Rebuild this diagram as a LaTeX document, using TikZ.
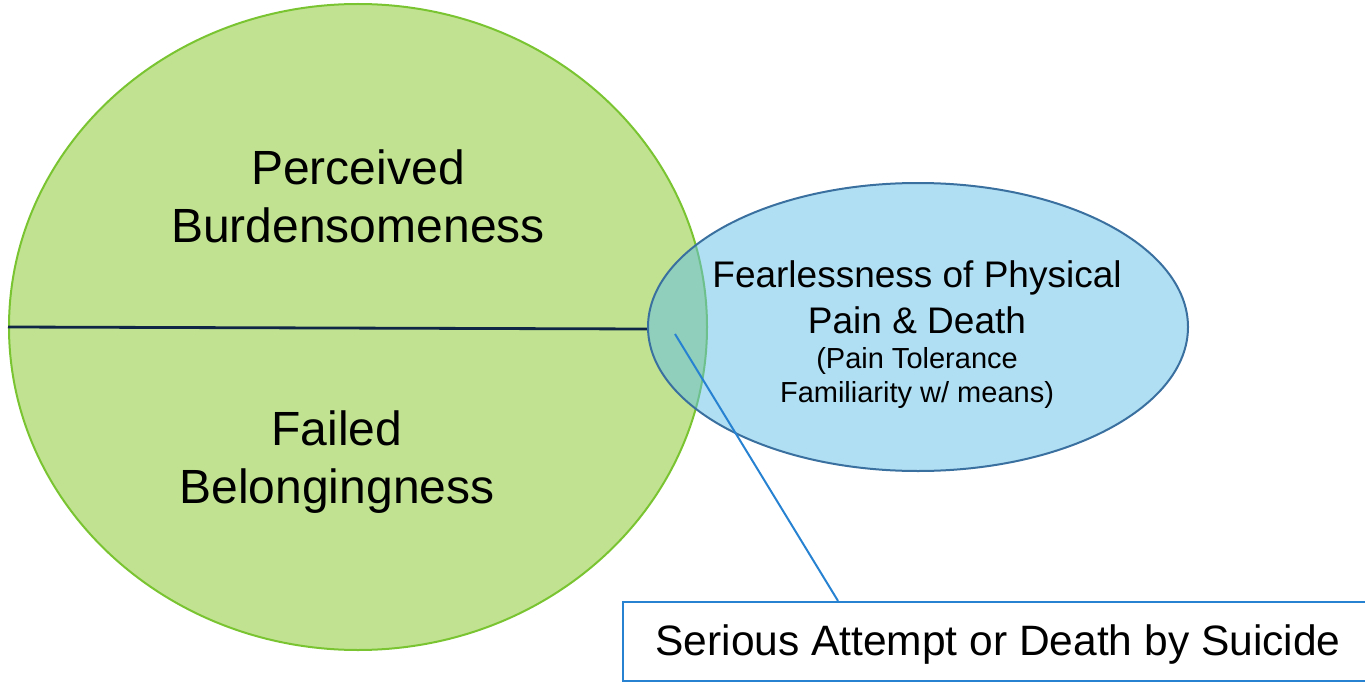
\documentclass[tikz,border=0pt]{standalone}
\usepackage{fontspec}
\setmainfont{Liberation Sans}
\usepackage{tikz}
\usetikzlibrary{shapes.geometric}
\definecolor{leafgreen}{RGB}{193,227,145}
\definecolor{leafedge}{RGB}{122,196,50}
\definecolor{skyblue}{RGB}{97,189,229}
\definecolor{skyedge}{RGB}{58,112,160}
\definecolor{navyline}{RGB}{16,38,70}
\definecolor{boxblue}{RGB}{40,130,210}
\newcommand{\bigtext}{\fontsize{48}{58}\selectfont}
\newcommand{\midtext}{\fontsize{37}{46}\selectfont}
\newcommand{\smalltext}{\fontsize{29}{34}\selectfont}
\newcommand{\boxtext}{\fontsize{42.5}{50}\selectfont}
\tikzset{
    blob/.style={ellipse, inner sep=0pt, line width=2pt},
    greenblob/.style={blob, draw=leafedge, fill=leafgreen},
    blueblob/.style={blob, draw=skyedge, fill=skyblue, fill opacity=0.5, draw opacity=1},
    label/.style={align=center, inner sep=0pt, text=black},
    outcome/.style={draw=boxblue, line width=2.2pt, rectangle, minimum width=750pt, minimum height=79pt, inner sep=0pt, text depth=2pt}
}

\begin{document}
\begin{tikzpicture}[x=1pt, y=-1pt]
                \useasboundingbox (0,0) rectangle (1365,682);

                \node[greenblob, minimum width=698pt, minimum height=646pt] (ipts) at (358,327) {};
                \draw[navyline, line width=2.8pt] (ipts.west) -- (648,329) coordinate (split);
                \node[blueblob, minimum width=540pt, minimum height=288pt] (capa) at (918,327) {};

                \node[label, font=\bigtext] (burden) at (358,196) {Perceived\\Burdensomeness};
                \node[label, font=\bigtext] (belong) at (337,462) {Failed\\Belongingness};
                \node[label, font=\midtext] (fear) at (917,297) {Fearlessness of Physical\\Pain \& Death};
                \node[label, font=\smalltext] (fearnote) at (917,378) {(Pain Tolerance\\Familiarity w/ means)};

                \node[outcome, font=\boxtext] (attempt) at (998,641.5) {Serious Attempt or Death by Suicide};
                \coordinate (overlap) at (675,334);

                \draw[boxblue, line width=2pt] (overlap) -- ([xshift=-160pt]attempt.north);

            \end{tikzpicture}
\end{document}
